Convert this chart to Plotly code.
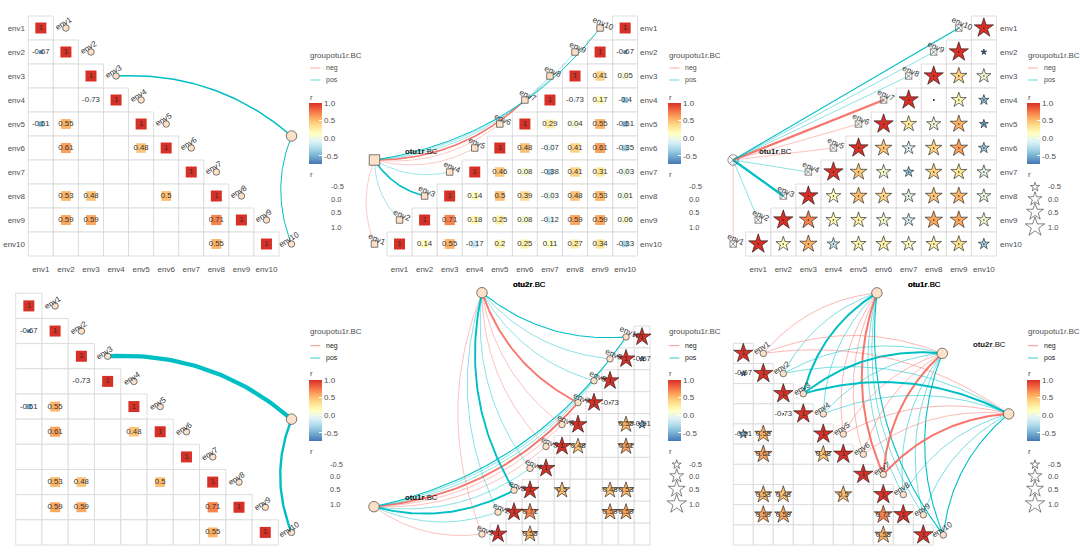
import math
import plotly.graph_objects as go

W, H = 1080, 553
env_names = [f"env{i}" for i in range(1, 11)]

# lower-triangle correlation rows (env_i vs column j, j = 1..i)
r_env1 = [1]
r_env2 = [-0.67, 1]
r_env3 = [0.05, 0.41, 1]
r_env4 = [-0.4, 0.17, -0.73, 1]
r_env5 = [-0.51, 0.55, 0.04, 0.29, 1]
r_env6 = [-0.35, 0.61, 0.41, -0.07, 0.48, 1]
r_env7 = [-0.03, 0.31, 0.41, -0.38, 0.08, 0.46, 1]
r_env8 = [0.01, 0.53, 0.48, -0.03, 0.39, 0.5, 0.14, 1]
r_env9 = [0.06, 0.59, 0.59, -0.12, 0.08, 0.25, 0.18, 0.71, 1]
r_env10 = [-0.33, 0.34, 0.27, 0.11, 0.25, 0.2, -0.17, 0.55, 0.14, 1]
r_rows = [r_env1, r_env2, r_env3, r_env4, r_env5, r_env6, r_env7, r_env8, r_env9, r_env10]

# link sign / strength class per env
link_sign = ["neg", "pos", "pos", "pos", "neg", "neg", "neg", "pos", "pos", "pos"]
link_class = [0, 0, 2, 0, 0, 0, 2, 0, 0, 1]
sig_link_envs = [3, 10]
sig_link_class = {3: 2, 10: 1}

size_legend_vals = [-0.5, 0.0, 0.5, 1.0]
size_legend_labels = ["-0.5", "0.0", "0.5", "1.0"]
cbar_ticks = [-0.5, 0.0, 0.5, 1.0]
cbar_labels = ["-0.5", "0.0", "0.5", "1.0"]

RMIN, RMAX = -0.73, 1.0
palette = ["#4575B4", "#74ADD1", "#ABD9E9", "#E0F3F8", "#FFFFBF", "#FEE090", "#FDAE61", "#F46D43", "#D73027"]
colorscale = [[i / 8, c] for i, c in enumerate(palette)]
COL = {"neg": "#F8766D", "pos": "#00BFC4"}
GRID = "#DADADA"
TXT = "#4D4D4D"
DARK = "#222222"
FONT = "Liberation Sans, Arial, sans-serif"
NODE = "#FCE0C8"


def size_for(r, smax):
    return 1 + (smax - 1) * (max(r - RMIN, 0) / (RMAX - RMIN)) ** 0.42


panels = [
    dict(gx=28.3, gy=16, w=25.07, h=24, dom=(26, 360, 0, 259), tri="lower", sig=True, marker="square", smax=11,
         ticks="left", hubs=[(11, 5.5)], curv=0.2, widths=(0.8, 1.0, 1.5), links="sig", node_sym="circle", hub_sym="circle",
         leg=(309.3, 56, 68, 80, 97, 103, 174, [187, 199, 212, 227], 330), lab=(-2.3, -4.3), ang=-32, star=False,
         key=1.5, alpha=0.4, hub_labels=[]),
    dict(gx=387, gy=16, w=25.07, h=24, dom=(360, 639, 0, 259), tri="upper", sig=False, marker="square", smax=11,
         ticks="right", hubs=[(0, 6.5)], curv=0.2, widths=(0.6, 1.0, 1.6), links="all", node_sym="square", hub_sym="square",
         leg=(668.3, 56, 68, 80, 97, 103, 174, [187, 199, 212, 227], 688), lab=(2.7, -4.3), ang=24, star=False,
         key=1.5, alpha=0.4, hub_labels=[("otu1r", 421.7, 151), ("otu2r", 529, 284)]),
    dict(gx=745.7, gy=16, w=25.07, h=24, dom=(720, 999, 0, 259), tri="upper", sig=False, marker="star", smax=14.5,
         ticks="right", hubs=[(0, 6.5)], curv=0.0, widths=(0.7, 1.2, 2.2), links="all", node_sym="square-x-open", hub_sym="circle-x-open",
         leg=(1027, 56, 68, 80, 97, 103, 174, [187, 199, 212, 227], 1047), lab=(2.7, -4.3), ang=24, star=True, star_x=1035,
         key=1.5, alpha=0.4, hub_labels=[("otu1r", 775, 151), ("otu1r", 924, 284)], dots=True),
    dict(gx=15.7, gy=293.3, w=26.27, h=25.17, dom=(0, 360, 285, 550), tri="lower", sig=True, marker="square", smax=11,
         ticks=None, hubs=[(11, 5.5)], curv=0.2, widths=(0.8, 2.4, 4.2), links="sig", node_sym="circle", hub_sym="circle",
         leg=(309.3, 331.7, 345.7, 358, 373.3, 380, 451, [464.6, 476, 489, 504], 329), lab=(-2.3, -3.3), ang=-32, star=False,
         key=0.8, alpha=1, hub_labels=[]),
    dict(gx=490, gy=326, w=16, h=21.9, dom=(360, 660, 285, 550), tri="upper", sig=True, marker="star", smax=13.5,
         ticks=None, hubs=[(-6.75, 8.75), (0, -1.02)], curv=0.2, widths=(0.7, 1.1, 1.9), links="all", node_sym="circle", hub_sym="circle",
         leg=(668.3, 331.7, 345.7, 358, 373.3, 380, 451, [464.6, 476, 489, 504], 688), lab=(3.7, -4), ang=22, star=True, star_x=676.7,
         key=0.8, alpha=1, hub_labels=[("otu1r", 421.7, 498), ("otu2r", 529, 284)]),
    dict(gx=733.3, gy=343.3, w=20, h=20.17, dom=(720, 1020, 285, 550), tri="lower", sig=True, marker="star", smax=14.5,
         ticks=None, hubs=[(7.68, -2), (10.95, 1), (14.27, 4)], curv=0.2, widths=(0.8, 1.1, 2.0), links="all", node_sym="circle", hub_sym="circle",
         leg=(1027, 331.7, 345.7, 358, 373.3, 380, 451, [464.6, 476, 489, 504], 1047), lab=(-1, -5.7), ang=-32, star=True, star_x=1035,
         key=0.8, alpha=1, hub_labels=[("otu1r", 924, 284), ("otu2r", 989, 345)]),
]

fig = go.Figure()
layout = dict(width=W, height=H, autosize=False, margin=dict(l=0, r=0, t=0, b=0),
              plot_bgcolor="white", paper_bgcolor="white", showlegend=False,
              font=dict(family=FONT, size=8, color=TXT), hovermode=False)
shapes, annots = [], []


def rgba(hexc, a):
    return f"rgba({int(hexc[1:3],16)},{int(hexc[3:5],16)},{int(hexc[5:7],16)},{a})"


def bezier(a, b, curv, sx, sy, n=50):
    ax, ay = a[0] * sx, a[1] * sy
    bx, by = b[0] * sx, b[1] * sy
    dx, dy = bx - ax, by - ay
    cx, cy = (ax + bx) / 2 - dy * curv, (ay + by) / 2 + dx * curv
    xs, ys = [], []
    for k in range(n + 1):
        t = k / n
        xs.append(((1 - t) ** 2 * ax + 2 * t * (1 - t) * cx + t * t * bx) / sx)
        ys.append(((1 - t) ** 2 * ay + 2 * t * (1 - t) * cy + t * t * by) / sy)
    return xs, ys


extra_axis = 7
for idx, p in enumerate(panels, start=1):
    sfx = "" if idx == 1 else str(idx)
    xa, ya = f"x{sfx}", f"y{sfx}"
    gx, gy, w, h = p["gx"], p["gy"], p["w"], p["h"]
    dl, dr, dt, db = p["dom"]
    px2x = lambda v, gx=gx, w=w: 0.5 + (v - gx) / w
    px2y = lambda v, gy=gy, h=h: 0.5 + (v - gy) / h
    show = p["ticks"] is not None
    layout[f"xaxis{sfx}"] = dict(domain=[dl / W, dr / W], range=[px2x(dl), px2x(dr)], anchor=ya,
                                 showgrid=False, zeroline=False, showline=False,
                                 showticklabels=show, tickvals=list(range(1, 11)), ticktext=env_names,
                                 ticks="outside" if show else "", ticklen=2, tickcolor="rgba(0,0,0,0)",
                                 tickfont=dict(family=FONT, size=8, color=TXT))
    layout[f"yaxis{sfx}"] = dict(domain=[1 - db / H, 1 - dt / H], range=[px2y(db), px2y(dt)], anchor=xa,
                                 side=p["ticks"] or "left",
                                 showgrid=False, zeroline=False, showline=False,
                                 showticklabels=show, tickvals=list(range(1, 11)), ticktext=env_names,
                                 ticks="", tickfont=dict(family=FONT, size=8, color=TXT))
    cax = "coloraxis" + sfx
    layout[cax] = dict(cmin=RMIN, cmax=RMAX, colorscale=colorscale,
                       colorbar=dict(x=p["leg"][0] / W, xanchor="left", xpad=0,
                                     y=1 - p["leg"][5] / H, yanchor="top", ypad=0,
                                     len=61, lenmode="pixels", thickness=12.7, thicknessmode="pixels",
                                     outlinewidth=0, tickvals=cbar_ticks, ticktext=cbar_labels,
                                     ticks="inside", ticklen=2.5, tickcolor="white", tickwidth=0.6,
                                     tickfont=dict(family=FONT, size=8, color=TXT)))

    # cell table
    cells = []
    for i, row in enumerate(r_rows, start=1):
        for j, val in enumerate(row, start=1):
            col = j if p["tri"] == "lower" else 11 - j
            cells.append((col, i, val))
    for col, row_i, val in cells:
        shapes.append(dict(type="rect", xref=xa, yref=ya, x0=col - 0.5, x1=col + 0.5, y0=row_i - 0.5, y1=row_i + 0.5,
                           line=dict(color=GRID, width=0.9), fillcolor="white", layer="below"))

    # node positions
    if p["tri"] == "lower":
        nodes = [(i + 1, i) for i in range(1, 11)]
    else:
        nodes = [(i - 1, 11 - i) for i in range(1, 11)]

    # links
    sx, sy = w, h
    link_curv = p["curv"]
    for hub in p["hubs"]:
        for e in range(1, 11):
            if p["links"] == "sig":
                if e not in sig_link_envs:
                    continue
                cls = sig_link_class[e]
            else:
                cls = link_class[e - 1]
            sign = link_sign[e - 1]
            xs, ys = bezier(hub, nodes[e - 1], link_curv, sx, sy)
            a = 0.65 if cls == 0 else 1.0
            fig.add_trace(go.Scatter(x=xs, y=ys, mode="lines", xaxis=xa, yaxis=ya, cliponaxis=False,
                                     line=dict(color=rgba(COL[sign], a), width=p["widths"][cls]), hoverinfo="skip"))

    # cells' marks
    shown = [c for c in cells if (not p["sig"]) or abs(c[2]) >= 0.48]
    is_star = p["marker"] == "star"
    has_text = not p.get("dots")
    fig.add_trace(go.Scatter(
        x=[c[0] for c in shown], y=[c[1] for c in shown], xaxis=xa, yaxis=ya, cliponaxis=False,
        mode="markers+text" if has_text else "markers",
        text=[f"{c[2]:g}" for c in shown] if has_text else None,
        textposition="middle center", textfont=dict(family=FONT, size=7.8, color="#333333"),
        marker=dict(symbol=p["marker"], size=[size_for(c[2], p["smax"]) for c in shown], opacity=1,
                    color=[c[2] for c in shown], coloraxis=cax,
                    line=dict(color="#111111" if is_star else "rgba(0,0,0,0)", width=0.6 if is_star else 0)),
        hoverinfo="skip"))
    if p.get("dots"):
        fig.add_trace(go.Scatter(x=[c[0] for c in shown], y=[c[1] for c in shown], xaxis=xa, yaxis=ya,
                                 mode="markers", marker=dict(symbol="circle", size=1.6, color="#222222"), hoverinfo="skip"))

    # nodes and hubs
    x_open = "open" in p["node_sym"]
    node_line = dict(color="#666666" if x_open else "#444444", width=0.7)
    node_kw = dict(symbol=p["node_sym"], size=6.5, line=node_line)
    hub_kw = dict(symbol=p["hub_sym"], size=10.5, line=node_line)
    if x_open:
        node_kw["color"] = "#666666"
        hub_kw["color"] = "#666666"
    else:
        node_kw["color"] = NODE
        hub_kw["color"] = NODE
    fig.add_trace(go.Scatter(x=[n[0] for n in nodes], y=[n[1] for n in nodes], mode="markers", xaxis=xa, yaxis=ya,
                             cliponaxis=False, marker=node_kw, hoverinfo="skip"))
    fig.add_trace(go.Scatter(x=[n[0] for n in p["hubs"]], y=[n[1] for n in p["hubs"]], mode="markers", xaxis=xa, yaxis=ya,
                             cliponaxis=False, marker=hub_kw, hoverinfo="skip"))

    # node labels
    for name, (nx, ny) in zip(env_names, nodes):
        annots.append(dict(x=nx, y=ny, xref=xa, yref=ya, text=name, showarrow=False, textangle=p["ang"],
                           xshift=p["lab"][0], yshift=-p["lab"][1], font=dict(family=FONT, size=8, color="#333333"),
                           xanchor="center", yanchor="middle"))
    # hub labels
    for base, hx, hy in p["hub_labels"]:
        annots.append(dict(x=hx / W, y=1 - hy / H, xref="paper", yref="paper", text=f"<b>{base}</b>.BC", showarrow=False,
                           font=dict(family=FONT, size=7.8, color="#111111"), xanchor="center", yanchor="middle"))

    # hand-placed legend block
    lx, y_title, y_neg, y_pos, y_r, _, y_r2, y_sizes, sx_lab = p["leg"]
    def label(txt, x, y, color=TXT, size=8):
        annots.append(dict(x=x / W, y=1 - y / H, xref="paper", yref="paper", text=txt, showarrow=False,
                           font=dict(family=FONT, size=size, color=color), xanchor="left", yanchor="middle",
                           xshift=0, yshift=0, borderpad=0))
    label("groupotu1r.BC", lx - 0.5, y_title)
    label("neg", lx + 16, y_neg, DARK if p["alpha"] == 1 else TXT, 7)
    label("pos", lx + 16, y_pos, DARK if p["alpha"] == 1 else TXT, 7)
    for sign, yy in (("neg", y_neg), ("pos", y_pos)):
        shapes.append(dict(type="line", xref="paper", yref="paper", x0=(lx + 1) / W, x1=(lx + 11) / W,
                           y0=1 - yy / H, y1=1 - yy / H, line=dict(color=rgba(COL[sign], p["alpha"]), width=p["key"])))
    label("r", lx - 0.5, y_r)
    label("r", lx - 0.5, y_r2)
    for lab_txt, yy in zip(size_legend_labels, y_sizes):
        label(lab_txt, sx_lab, yy, TXT, 7.5)
    if p["star"]:
        # size legend lives on its own hidden pixel-scaled axes beside the panel
        sxa, sya = f"x{extra_axis}", f"y{extra_axis}"
        x0, x1 = p["star_x"] - 13, p["star_x"] + 13
        y0, y1 = y_sizes[0] - 12, y_sizes[-1] + 14
        layout[f"xaxis{extra_axis}"] = dict(domain=[x0 / W, min(x1 / W, 1)], range=[x0, x1], anchor=sya, visible=False)
        layout[f"yaxis{extra_axis}"] = dict(domain=[1 - y1 / H, 1 - y0 / H], range=[y1, y0], anchor=sxa, visible=False)
        fig.add_trace(go.Scatter(x=[p["star_x"]] * 4, y=y_sizes, mode="markers",
                                 xaxis=sxa, yaxis=sya, cliponaxis=False,
                                 marker=dict(symbol="star-open", size=[size_for(v, 14.5) for v in size_legend_vals], opacity=1,
                                             color="#333333", line=dict(color="#333333", width=0.6)), hoverinfo="skip"))
        extra_axis += 1

layout["shapes"] = shapes
layout["annotations"] = annots
fig.update_layout(**layout)
fig.write_html("out.html", config=dict(displayModeBar=False), post_script="document.body.style.margin='0';")
